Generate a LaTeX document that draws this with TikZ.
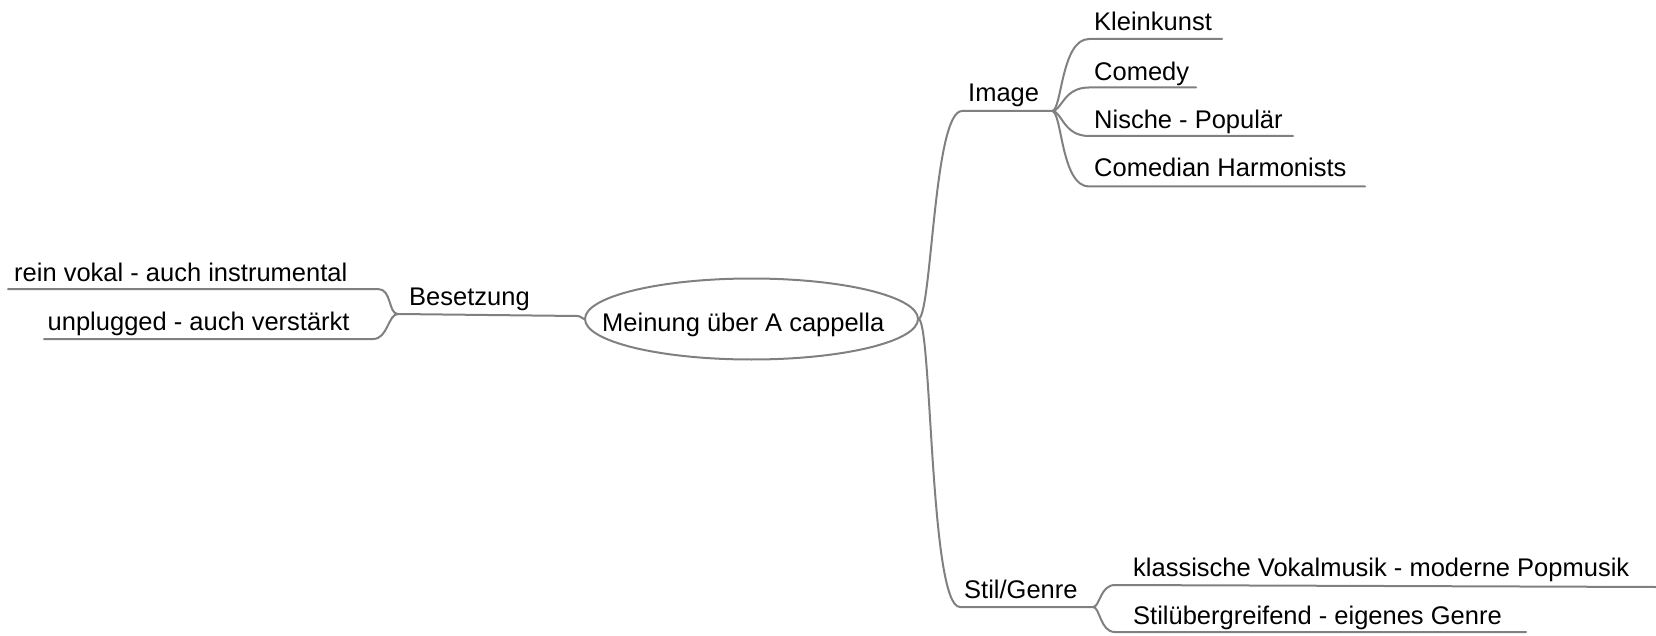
\documentclass[tikz,border=0pt]{standalone}
\usepackage{fontspec}
\setmainfont{Liberation Sans}
\usetikzlibrary{shapes.geometric,calc}
\definecolor{linegray}{RGB}{128,128,128}
\begin{document}
\begin{tikzpicture}[x=1pt,y=-1pt,
  conn/.style={draw=linegray,line width=2pt,line cap=round,line join=round},
  txt/.style={anchor=base west,inner sep=0pt,text=black,font=\fontsize{25.5}{30}\selectfont},
  rootshape/.style={ellipse,draw=linegray,line width=2pt,minimum width=333pt,minimum height=81pt,inner sep=0pt}]
\useasboundingbox (0,0) rectangle (1656,636);

% central topic
\node[rootshape] (root) at (751.5,319) {};
\node[txt] (rootT) at (602,331.5) {Meinung über A cappella};

% left branch: Besetzung
\coordinate (besJ) at (398,314);
\coordinate (besE) at (577,316);
\coordinate (reinS) at (8,289);   \coordinate (reinC) at (378,289);
\coordinate (unplS) at (44,339);  \coordinate (unplC) at (373,339);
\node[txt] (bes)  at (409,305.5) {Besetzung};
\node[txt] (rein) at (14,281) {rein vokal - auch instrumental};
\node[txt] (unpl) at (47.5,330) {unplugged - auch verstärkt};

\draw[conn] (besJ) -- (besE) .. controls ($(besE)+(4,0)$) and ($(root.west)+(-3,-1)$) .. (root.west);
\draw[conn] (reinS) -- (reinC) .. controls ($(reinC)+(14,0)$) and ($(besJ)+(-10,0)$) .. (besJ);
\draw[conn] (unplS) -- (unplC) .. controls ($(unplC)+(15,0)$) and ($(besJ)+(-10,0)$) .. (besJ);

% upper right branch: Image
\coordinate (imgC) at (962,111);
\coordinate (imgJ) at (1052,111);
\node[txt] (img) at (968,102) {Image};
\draw[conn] (root.east) .. controls ($(root.east)+(13,-10)$) and ($(imgC)+(-28,0)$) .. (imgC) -- (imgJ);

\coordinate (kleinS) at (1089,39);    \coordinate (kleinE) at (1222,39);
\coordinate (comS)   at (1089,87.5);  \coordinate (comE)   at (1196,87.5);
\coordinate (nisS)   at (1089,136);   \coordinate (nisE)   at (1293,136);
\coordinate (harS)   at (1089,186.5); \coordinate (harE)   at (1365,186.5);
\node[txt] (klein) at (1094,30.5) {Kleinkunst};
\node[txt] (com)   at (1094,81) {Comedy};
\node[txt] (nis)   at (1094,128.5) {Nische - Populär};
\node[txt] (har)   at (1094,177) {Comedian Harmonists};
\draw[conn] (imgJ) .. controls ($(imgJ)+(10,0)$) and ($(kleinS)+(-28,0)$) .. (kleinS) -- (kleinE);
\draw[conn] (imgJ) .. controls ($(imgJ)+(10,0)$) and ($(comS)+(-26,0)$) .. (comS) -- (comE);
\draw[conn] (imgJ) .. controls ($(imgJ)+(10,0)$) and ($(nisS)+(-26,0)$) .. (nisS) -- (nisE);
\draw[conn] (imgJ) .. controls ($(imgJ)+(10,0)$) and ($(harS)+(-28,0)$) .. (harS) -- (harE);

% lower right branch: Stil/Genre
\coordinate (stilC) at (960,607);
\coordinate (stilJ) at (1093,607);
\node[txt] (stil) at (964,598) {Stil/Genre};
\draw[conn] (root.east) .. controls ($(root.east)+(13,10)$) and ($(stilC)+(-30,0)$) .. (stilC) -- (stilJ);

\coordinate (klasS) at (1115,585); \coordinate (klasE) at (1656,587);
\coordinate (stubS) at (1115,632); \coordinate (stubE) at (1526,632);
\node[txt] (klas) at (1133,576.5) {klassische Vokalmusik - moderne Popmusik};
\node[txt] (stub) at (1133,624.5) {Stilübergreifend - eigenes Genre};
\draw[conn] (stilJ) .. controls ($(stilJ)+(7,0)$) and ($(klasS)+(-15,0)$) .. (klasS) -- (klasE);
\draw[conn] (stilJ) .. controls ($(stilJ)+(7,0)$) and ($(stubS)+(-15,0)$) .. (stubS) -- (stubE);
\end{tikzpicture}
\end{document}
